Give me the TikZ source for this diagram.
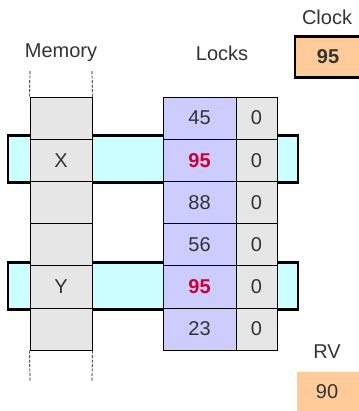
\documentclass[tikz,border=0pt]{standalone}
\usepackage{fontspec}
\setmainfont{Liberation Sans}
\usepackage{xcolor}
\usepackage{tikz}

\definecolor{ink}{HTML}{333333}
\definecolor{cellgray}{HTML}{E6E6E6}
\definecolor{lockblue}{HTML}{CCCCFF}
\definecolor{rowcyan}{HTML}{CCFFFF}
\definecolor{clockorange}{HTML}{FFCC99}
\definecolor{hotred}{HTML}{CC0033}

\tikzset{
  cell/.style={draw=black,line width=0.8pt,minimum height=42.2pt,inner sep=0pt,
    text=ink,font=\fontsize{20}{24}\selectfont},
  memcell/.style={cell,fill=cellgray,minimum width=62pt},
  lockcell/.style={cell,fill=lockblue,minimum width=73pt},
  bitcell/.style={cell,fill=cellgray,minimum width=41pt},
  rowbar/.style={draw=black,line width=2.6pt,fill=rowcyan,minimum width=290pt,
    minimum height=47pt,inner sep=0pt},
  title/.style={text=ink,font=\fontsize{20}{24}\selectfont},
  regbox/.style={fill=clockorange,minimum width=66pt,minimum height=41pt,inner sep=0pt,
    text=ink,font=\fontsize{20}{24}\selectfont},
  rail/.style={dash pattern=on 3pt off 1.5pt,line width=0.7pt}
}

\begin{document}
\begin{tikzpicture}[x=1pt,y=-1pt]
    \useasboundingbox (0,0) rectangle (358,411);
    % highlighted rows sit behind the cells
    \node[rowbar] (barX) at (153,159) {};
    \node[rowbar] (barY) at (153,286) {};
    % memory column and lock table
    \foreach \r/\m/\v in {0//45,1/X/95,2//88,3//56,4/Y/95,5//23} {
      \node[memcell] (m\r) at (61,{118.1+42.2*\r}) {\m};
      \node[lockcell] (l\r) at (199.5,{118.1+42.2*\r}) {\v};
      \node[bitcell] (b\r) at (256.5,{118.1+42.2*\r}) {0};
    }
    % the two locks that were taken show the clock value
    \node[lockcell,text=hotred,font=\fontsize{20}{24}\selectfont\bfseries] at (l1) {95};
    \node[lockcell,text=hotred,font=\fontsize{20}{24}\selectfont\bfseries] at (l4) {95};
    % open ends of the memory
    \coordinate (mtl) at (30,70);
    \coordinate (mtr) at (92,70);
    \coordinate (mbl) at (30,381);
    \coordinate (mbr) at (92,381);
    \draw[rail] (m0.north west) -- (mtl);
    \draw[rail] (m0.north east) -- (mtr);
    \draw[rail] (m5.south west) -- (mbl);
    \draw[rail] (m5.south east) -- (mbr);
    \node[title] (memlabel) at (61,53) {Memory};
    \node[title] (locklabel) at (222,53) {Locks};
    % global clock and read version
    \node[title] (clocklabel) at (327,17) {Clock};
    \node[regbox,draw=black,line width=2.6pt,font=\fontsize{20}{24}\selectfont\bfseries]
      (clock) at (328,57) {95};
    \node[title] (rvlabel) at (327,352) {RV};
    \node[regbox] (rv) at (330,392) {};
    \node[text=ink,font=\fontsize{20}{24}\selectfont] (rvval) at (327,392) {90};
  \end{tikzpicture}
\end{document}
